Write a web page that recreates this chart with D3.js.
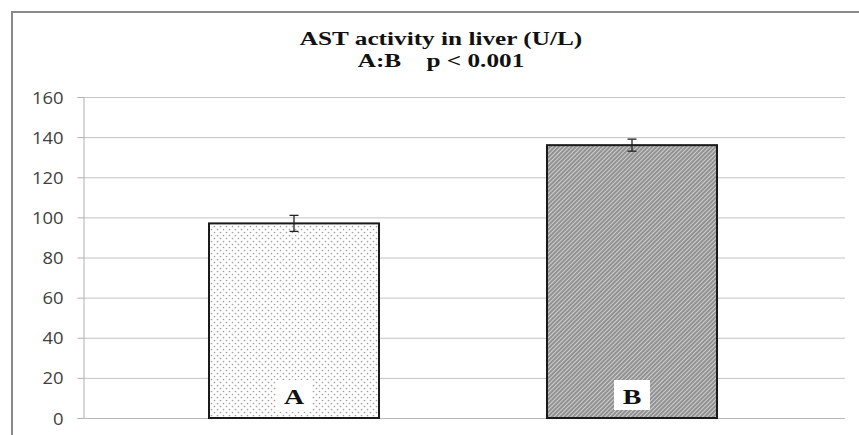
<!DOCTYPE html>
<html><head><meta charset="utf-8">
<script src="https://cdn.jsdelivr.net/npm/d3@7"></script>
<style>body{margin:0;background:#fff}svg{display:block}</style>
</head><body><svg id="c" width="859" height="435"></svg>
<script>
const categories = ["A", "B"];
const values = [97, 136];
const errors = [4, 3];
const yTicks = [0, 20, 40, 60, 80, 100, 120, 140, 160];
const titleLines = ["AST activity in liver (U/L)", "A:B    p < 0.001"];

const svg = d3.select("#c");
const W = 859, H = 435;
const SX = 1.33; // horizontal stretch seen in the reference
const defs = svg.append("defs");
const pA = defs.append("pattern").attr("id","dots").attr("patternUnits","userSpaceOnUse")
  .attr("width",6).attr("height",6);
pA.append("rect").attr("width",6).attr("height",6).attr("fill","#fff");
pA.append("circle").attr("cx",1.5).attr("cy",1.5).attr("r",0.85).attr("fill","#a0a0a0");
pA.append("circle").attr("cx",4.5).attr("cy",4.5).attr("r",0.85).attr("fill","#a0a0a0");
const pB = defs.append("pattern").attr("id","hatch").attr("patternUnits","userSpaceOnUse")
  .attr("width",3).attr("height",3).attr("patternTransform","rotate(45)");
pB.append("rect").attr("width",3).attr("height",3).attr("fill","#cfcfcf");
pB.append("line").attr("x1",1).attr("x2",1).attr("y1",0).attr("y2",3).attr("stroke","#707070").attr("stroke-width",1.3);
const fills = ["url(#dots)", "url(#hatch)"];

// outer border
svg.append("path").attr("d",`M12,${H} V12 H${W}`).attr("fill","none").attr("stroke","#8a8a8a").attr("stroke-width",2);

const y = d3.scaleLinear().domain([0,160]).range([418,97]);
const x = d3.scaleBand().domain(categories).range([125,801]).paddingInner(0.497).paddingOuter(0.2485);
const plotL = 83, plotR = 845;

// gridlines
svg.append("g").selectAll("line").data(yTicks.filter(d=>d>0)).join("line")
  .attr("x1",plotL).attr("x2",plotR).attr("y1",d=>y(d)+0.5).attr("y2",d=>y(d)+0.5)
  .attr("stroke","#c4c4c4").attr("stroke-width",1);

// y axis
const yAxis = d3.axisLeft(y).tickValues(yTicks).tickSize(6).tickPadding(14);
const gy = svg.append("g").attr("transform",`translate(${plotL+0.5},0)`).call(yAxis);
gy.select(".domain").attr("stroke","#b0b0b0");
gy.selectAll(".tick line").attr("stroke","#b0b0b0");
gy.selectAll(".tick text").attr("x",null).attr("dy",null)
  .attr("font-family","'Open Sans', sans-serif").attr("font-size",16).attr("fill","#404040")
  .attr("dominant-baseline","central")
  .attr("transform","translate(-20,0) scale(1.15,1)");

// x axis line
svg.append("line").attr("x1",plotL).attr("x2",plotR).attr("y1",y(0)+0.5).attr("y2",y(0)+0.5)
  .attr("stroke","#b8b8b8").attr("stroke-width",1.2);

// bars
svg.append("g").selectAll("rect").data(categories).join("rect")
  .attr("x",d=>x(d)).attr("width",x.bandwidth())
  .attr("y",(d,i)=>y(values[i])).attr("height",(d,i)=>y(0)-y(values[i]))
  .attr("fill",(d,i)=>fills[i]).attr("stroke","#1a1a1a").attr("stroke-width",2);

// error bars
const eg = svg.append("g").attr("stroke","#222").attr("stroke-width",1.3);
categories.forEach((c,i)=>{
  const cx = x(c)+x.bandwidth()/2;
  eg.append("line").attr("x1",cx).attr("x2",cx).attr("y1",y(values[i]+errors[i])).attr("y2",y(values[i]-errors[i]));
  eg.append("line").attr("x1",cx-4.5).attr("x2",cx+4.5).attr("y1",y(values[i]+errors[i])).attr("y2",y(values[i]+errors[i]));
  eg.append("line").attr("x1",cx-4.5).attr("x2",cx+4.5).attr("y1",y(values[i]-errors[i])).attr("y2",y(values[i]-errors[i]));
});

// bar labels with white boxes
categories.forEach((c,i)=>{
  const cx = x(c)+x.bandwidth()/2;
  svg.append("rect").attr("x",cx-18).attr("y",380).attr("width",36).attr("height",30).attr("fill","#fff");
  svg.append("text").attr("transform",`translate(${cx},404) scale(${SX},1)`).attr("text-anchor","middle")
    .attr("font-family","'Liberation Serif', serif").attr("font-weight","bold").attr("font-size",21)
    .attr("fill","#111").text(c);
});

// title
titleLines.forEach((t,i)=>{
  svg.append("text").attr("transform",`translate(441,${45+i*22}) scale(${SX},1)`).attr("text-anchor","middle")
    .attr("font-family","'Liberation Serif', serif").attr("font-weight","bold").attr("font-size",19)
    .attr("fill","#111").attr("xml:space","preserve").style("white-space","pre").text(t);
});
</script></body></html>
